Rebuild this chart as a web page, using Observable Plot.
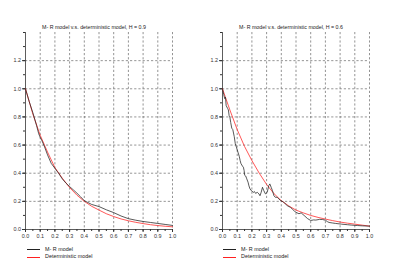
<!DOCTYPE html>
<html>
<head>
<meta charset="utf-8">
<script src="https://cdn.jsdelivr.net/npm/d3@7"></script>
<script src="https://cdn.jsdelivr.net/npm/@observablehq/plot@0.6"></script>
<style>
  html, body { margin: 0; padding: 0; background: #fff; }
  #root { position: relative; width: 394px; height: 261px; overflow: hidden; font-family: "Liberation Sans", Arial, sans-serif; }
  #root svg.plot { position: absolute; top: 0; }
  .legend { position: absolute; font-size: 5.4px; color: #222; line-height: 7.7px; }
  .legend .row { display: flex; align-items: center; height: 7.7px; white-space: nowrap; }
  .legend .sw { display: inline-block; width: 13px; height: 0; border-top: 0.8px solid #333; margin-right: 5px; }
</style>
</head>
<body>
<div id="root"></div>
<script>
// ---- data ----
const titles = ["M- R model v.s. deterministic model, H = 0.9", "M- R model v.s. deterministic model, H = 0.6"];
const seriesNames = ["M- R model", "Deterministic model"];
const xTicks = [0, 0.1, 0.2, 0.3, 0.4, 0.5, 0.6, 0.7, 0.8, 0.9, 1.0];
const yTicks = [0, 0.2, 0.4, 0.6, 0.8, 1.0, 1.2];

// Panel 1 (H = 0.9)
const mr09X = [0, 0.025, 0.05, 0.075, 0.09, 0.1, 0.11, 0.125, 0.15, 0.175, 0.2, 0.225, 0.25, 0.275, 0.3, 0.325, 0.35, 0.375, 0.4, 0.45, 0.5, 0.55, 0.6, 0.65, 0.7, 0.75, 0.8, 0.85, 0.9, 0.95, 1.0];
const mr09Y = [1.0, 0.91, 0.83, 0.74, 0.68, 0.655, 0.635, 0.6, 0.53, 0.47, 0.435, 0.4, 0.36, 0.33, 0.305, 0.282, 0.258, 0.232, 0.205, 0.178, 0.163, 0.14, 0.12, 0.096, 0.077, 0.066, 0.057, 0.05, 0.043, 0.036, 0.029];
const det09X = [0, 0.05, 0.1, 0.15, 0.2, 0.25, 0.3, 0.35, 0.4, 0.45, 0.5, 0.55, 0.6, 0.65, 0.7, 0.75, 0.8, 0.85, 0.9, 0.95, 1.0];
const det09Y = [1.0, 0.82, 0.67, 0.55, 0.44, 0.365, 0.298, 0.244, 0.2, 0.165, 0.138, 0.112, 0.092, 0.075, 0.062, 0.051, 0.042, 0.034, 0.028, 0.023, 0.019];

// Panel 2 (H = 0.6)
const mr06X = [0, 0.008, 0.015, 0.02, 0.025, 0.035, 0.04, 0.045, 0.05, 0.056, 0.063, 0.07, 0.08, 0.087, 0.096, 0.105, 0.114, 0.12, 0.125, 0.136, 0.142, 0.147, 0.151, 0.158, 0.165, 0.174, 0.18, 0.187, 0.196, 0.21, 0.217, 0.225, 0.237, 0.248, 0.255, 0.263, 0.272, 0.281, 0.292, 0.304, 0.315, 0.322, 0.331, 0.34, 0.35, 0.359, 0.372, 0.384, 0.395, 0.406, 0.417, 0.44, 0.463, 0.475, 0.49, 0.5, 0.52, 0.535, 0.555, 0.578, 0.6, 0.62, 0.635, 0.66, 0.68, 0.7, 0.715, 0.725, 0.75, 0.77, 0.81, 0.85, 0.88, 0.92, 0.95, 1.0];
const mr06Y = [1.0, 0.96, 0.93, 0.94, 0.88, 0.86, 0.85, 0.81, 0.8, 0.76, 0.72, 0.71, 0.66, 0.61, 0.58, 0.55, 0.52, 0.49, 0.47, 0.45, 0.443, 0.42, 0.385, 0.38, 0.36, 0.336, 0.31, 0.289, 0.276, 0.264, 0.27, 0.257, 0.264, 0.253, 0.24, 0.264, 0.3, 0.276, 0.253, 0.264, 0.312, 0.324, 0.3, 0.276, 0.24, 0.229, 0.229, 0.217, 0.205, 0.2, 0.193, 0.17, 0.157, 0.145, 0.13, 0.122, 0.112, 0.118, 0.1, 0.078, 0.064, 0.068, 0.067, 0.072, 0.071, 0.066, 0.055, 0.05, 0.046, 0.043, 0.038, 0.034, 0.031, 0.028, 0.026, 0.024];
const det06X = [0, 0.05, 0.1, 0.15, 0.2, 0.25, 0.3, 0.35, 0.4, 0.45, 0.5, 0.55, 0.6, 0.65, 0.7, 0.75, 0.8, 0.85, 0.9, 0.95, 1.0];
const det06Y = [1.0, 0.85, 0.71, 0.59, 0.49, 0.4, 0.32, 0.255, 0.205, 0.168, 0.138, 0.118, 0.1, 0.086, 0.074, 0.063, 0.053, 0.045, 0.038, 0.031, 0.024];

const colors = ["#222", "#ff2020"];

function zip(xs, ys) { return xs.map((x, i) => ({x, y: ys[i]})); }

function panel(title, mr, det) {
  const minorX = d3.range(0, 1.0001, 0.05);
  const minorY = d3.range(0, 1.4001, 0.1);
  return Plot.plot({
    width: 197, height: 261,
    marginLeft: 25, marginRight: 25, marginTop: 32, marginBottom: 32,
    x: {domain: [0, 1], label: null},
    y: {domain: [0, 1.4], label: null},
    style: {fontFamily: "Liberation Sans, Arial, sans-serif", fontSize: "5.4px", color: "#333", background: "white"},
    marks: [
      Plot.gridX(xTicks.slice(1), {stroke: "#666", strokeOpacity: 1, strokeWidth: 0.7, strokeDasharray: "2.2,2"}),
      Plot.gridY(yTicks.slice(1), {stroke: "#666", strokeOpacity: 1, strokeWidth: 0.7, strokeDasharray: "2.2,2"}),
      Plot.axisX(xTicks, {tickSize: 3, tickPadding: 2, tickFormat: d3.format(".1f"), stroke: "#333", fill: "#333", label: null}),
      Plot.axisX(minorX, {tickSize: 2, tickFormat: () => "", stroke: "#333", label: null}),
      Plot.axisY(yTicks, {tickSize: 3, tickPadding: 1.5, tickFormat: d3.format(".1f"), stroke: "#333", fill: "#333", label: null}),
      Plot.axisY(minorY, {tickSize: 2, tickFormat: () => "", stroke: "#333", label: null}),
      Plot.ruleY([0], {stroke: "#333", strokeWidth: 0.8}),
      Plot.ruleX([0], {stroke: "#333", strokeWidth: 0.8}),
      Plot.line(det, {x: "x", y: "y", stroke: colors[1], strokeWidth: 0.75}),
      Plot.line(mr, {x: "x", y: "y", stroke: colors[0], strokeWidth: 0.75}),
      Plot.text([title], {frameAnchor: "top", dy: -7, dx: -5, fontSize: 5.3, fill: "#222"})
    ]
  });
}

const root = document.getElementById("root");
const p1 = panel(titles[0], zip(mr09X, mr09Y), zip(det09X, det09Y));
p1.classList.add("plot"); p1.style.left = "0px";
const p2 = panel(titles[1], zip(mr06X, mr06Y), zip(det06X, det06Y));
p2.classList.add("plot"); p2.style.left = "197px";
root.appendChild(p1); root.appendChild(p2);

function legend(left) {
  const div = document.createElement("div");
  div.className = "legend";
  div.style.left = left + "px";
  div.style.top = "245.5px";
  seriesNames.forEach((name, i) => {
    const row = document.createElement("div");
    row.className = "row";
    const sw = document.createElement("span");
    sw.className = "sw";
    sw.style.borderTopColor = colors[i];
    row.appendChild(sw);
    row.appendChild(document.createTextNode(name));
    div.appendChild(row);
  });
  root.appendChild(div);
}
legend(27);
legend(223);
</script>
</body>
</html>
